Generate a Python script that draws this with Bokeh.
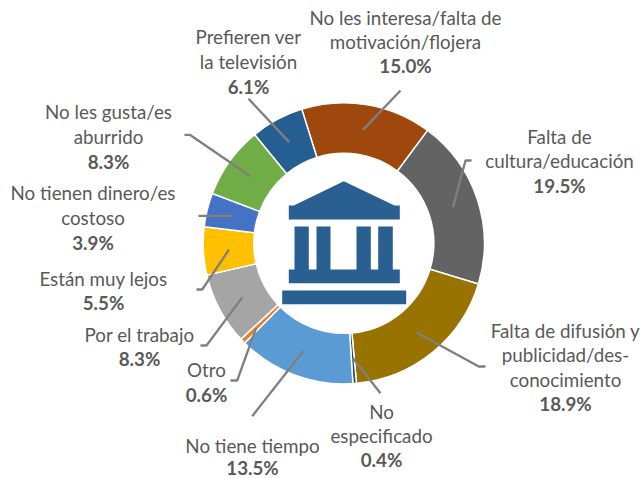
import math
from bokeh.plotting import figure
from bokeh.models import ColumnDataSource, Range1d
from bokeh.core.properties import value
from bokeh.embed import file_html
from bokeh.resources import INLINE

categories = ["No les interesa/falta de motivación/flojera", "Falta de cultura/educación",
              "Falta de difusión y publicidad/des-conocimiento", "No especificado", "No tiene tiempo",
              "Otro", "Por el trabajo", "Están muy lejos", "No tienen dinero/es costoso",
              "No les gusta/es aburrido", "Prefieren ver la televisión"]
values = [15.0, 19.5, 18.9, 0.4, 13.5, 0.6, 8.3, 5.5, 3.9, 8.3, 6.1]
colors = ["#9E480E", "#636363", "#997300", "#264478", "#5B9BD5", "#ED7D31",
          "#A5A5A5", "#FFC000", "#4472C4", "#70AD47", "#255E91"]
label_lines = [["No les interesa/falta de", "motivación/flojera"], ["Falta de", "cultura/educación"],
               ["Falta de difusión y", "publicidad/des-", "conocimiento"], ["No", "especificado"],
               ["No tiene tiempo"], ["Otro"], ["Por el trabajo"], ["Están muy lejos"],
               ["No tienen dinero/es", "costoso"], ["No les gusta/es", "aburrido"],
               ["Prefieren ver", "la televisión"]]

W, H = 642, 478
CX, CY, R_OUT, R_IN = 343.3, 242.8, 140.6, 90.0
START_DEG = -17.4
FONT = "Lato"
FS = "18.8px"
TXT = "#595959"
LEAD = "#7F7F7F"
ICON = "#2A5F91"

# label layout: first line centre x, first line y, line step
label_pos = [(405, 17, 24), (559, 136, 24.5), (565, 330, 24.6), (381, 411, 24), (252, 445, 22.5),
             (206, 369, 25), (139, 334, 24), (103, 278, 24), (92.5, 192, 25), (108, 111, 25), (248, 36, 25)]
# leader routes, from the slice's mid-ring point outwards
leader_routes = [[(400, 90)], [(465, 160), (471, 160)], [(478.3, 366), (485, 366)], [(380, 392.7)],
                 [(251.7, 415.7)], [(236.7, 380), (230, 380)], [(206, 345), (200, 345)],
                 [(201.7, 289), (196, 289)], [(198, 215.3)], [(189.3, 134.3), (184, 134.3)], [(248, 98.3)]]
leader_radius = [115, 115, 115, 115, 115, 122, 115, 115, 115, 115, 115]

def Y(py):
    return H - py

p = figure(width=W, height=H, x_range=Range1d(0, W), y_range=Range1d(0, H),
           output_backend="svg", toolbar_location=None, min_border=0)
p.axis.visible = False
p.grid.visible = False
p.outline_line_color = None
p.background_fill_color = "white"
p.styles = {"position": "absolute", "left": "0px", "top": "0px"}

# clockwise angles from the top
bounds = [START_DEG]
for v in values:
    bounds.append(bounds[-1] + v * 3.6)
to_math = lambda d: math.radians(90 - d)
src = ColumnDataSource(dict(x=[CX] * len(values), y=[Y(CY)] * len(values),
                            s=[to_math(b) for b in bounds[:-1]],
                            e=[to_math(b) for b in bounds[1:]],
                            c=colors))
p.annular_wedge("x", "y", inner_radius=R_IN, outer_radius=R_OUT, start_angle="s", end_angle="e",
                direction="clock", fill_color="c", line_color="white", line_width=1.5, source=src)

# leaders
for i in range(len(values)):
    mid = math.radians((bounds[i] + bounds[i + 1]) / 2)
    r = leader_radius[i]
    xs = [CX + r * math.sin(mid)] + [q[0] for q in leader_routes[i]]
    ys = [Y(CY - r * math.cos(mid))] + [Y(q[1]) for q in leader_routes[i]]
    p.line(xs, ys, line_color=LEAD, line_width=2.3)

# icon
p.patch([343.3, 394, 399.3, 399.3, 288.3, 288.3, 293.3],
        [Y(v) for v in [180.7, 205, 205, 219, 219, 205, 205]], fill_color=ICON, line_color=None)
p.quad(left=[294, 316, 356, 377.7, 288.3, 281.7], right=[308.3, 330, 370.3, 392.3, 399.3, 405.7],
       top=[Y(v) for v in [226, 226, 226, 226, 269, 290]],
       bottom=[Y(v) for v in [270, 270, 270, 270, 282.7, 303.7]],
       fill_color=ICON, line_color=None)

# labels
for lines, v, (lx, ly, step) in zip(label_lines, values, label_pos):
    ys = [Y(ly - 0.5 + k * step) for k in range(len(lines) + 1)]
    n = len(lines)
    p.text([lx] * n, ys[:n], text=lines, text_font=value(FONT), text_font_size=FS, text_color=TXT,
           text_align="center", text_baseline="middle")
    p.text([lx], [ys[n]], text=[f"{v:.1f}%"], text_font=value(FONT), text_font_size=FS,
           text_font_style="bold", text_color=TXT, text_align="center", text_baseline="middle")

open("out.html", "w").write(file_html(p, INLINE))
